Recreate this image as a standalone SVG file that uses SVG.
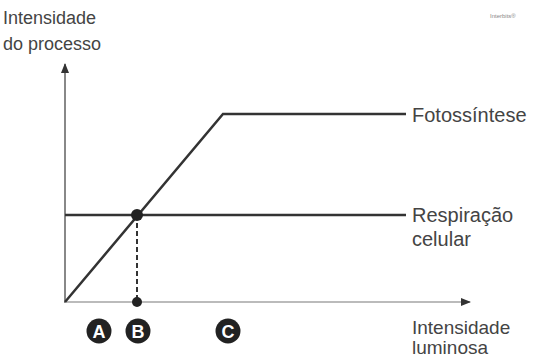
<svg xmlns="http://www.w3.org/2000/svg" width="537" height="357" viewBox="0 0 537 357">
<style>
text{font-family:"Liberation Sans",Arial,sans-serif;fill:#444;font-size:19px}
.tl{font-size:18px}
.rt{font-size:20px}
.lbl{fill:#fff;font-weight:bold;font-size:18px;text-anchor:middle}
.curve{stroke:#333;stroke-width:2.5;fill:none}
</style>
<defs>
<marker id="ah" markerWidth="10" markerHeight="8" refX="9" refY="4" orient="auto" markerUnits="userSpaceOnUse">
<path d="M0,0 L10,4 L0,8 Z" fill="#333"/>
</marker>
</defs>
<rect width="537" height="357" fill="#fff"/>
<text x="490" y="18" style="font-size:6px;fill:#888">Interbits®</text>
<g id="axes">
<line x1="65" y1="303" x2="65" y2="64" stroke="#888" stroke-width="2" marker-end="url(#ah)"/>
<line x1="65" y1="302" x2="470" y2="302" stroke="#bbb" stroke-width="2" marker-end="url(#ah)"/>
</g>
<g id="y-label"><text class="tl" x="3" y="24">Intensidade</text><text class="tl" x="3" y="50">do processo</text></g>
<g id="x-label"><text x="412" y="334">Intensidade</text><text x="412" y="354">luminosa</text></g>
<g id="connectors">
<polyline class="curve" points="65,302 223,114 406,114"/>
<line class="curve" x1="65" y1="215" x2="406" y2="215"/>
<line x1="137" y1="215" x2="137" y2="302" stroke="#333" stroke-width="2" stroke-dasharray="5,3"/>
</g>
<g id="fotossintese"><text class="rt" x="412" y="122">Fotossíntese</text></g>
<g id="respiracao"><text class="rt" x="412" y="222">Respiração</text><text class="rt" x="412" y="246">celular</text></g>
<g id="point-intersection"><circle cx="137" cy="215" r="6" fill="#222"/></g>
<g id="point-axis"><circle cx="137" cy="302" r="5" fill="#222"/></g>
<g id="A"><circle cx="99" cy="331" r="12.5" fill="#222"/><text class="lbl" x="99" y="337.5">A</text></g>
<g id="B"><circle cx="138" cy="331" r="12.5" fill="#222"/><text class="lbl" x="138" y="337.5">B</text></g>
<g id="C"><circle cx="228" cy="331" r="12.5" fill="#222"/><text class="lbl" x="228" y="337.5">C</text></g>
</svg>
